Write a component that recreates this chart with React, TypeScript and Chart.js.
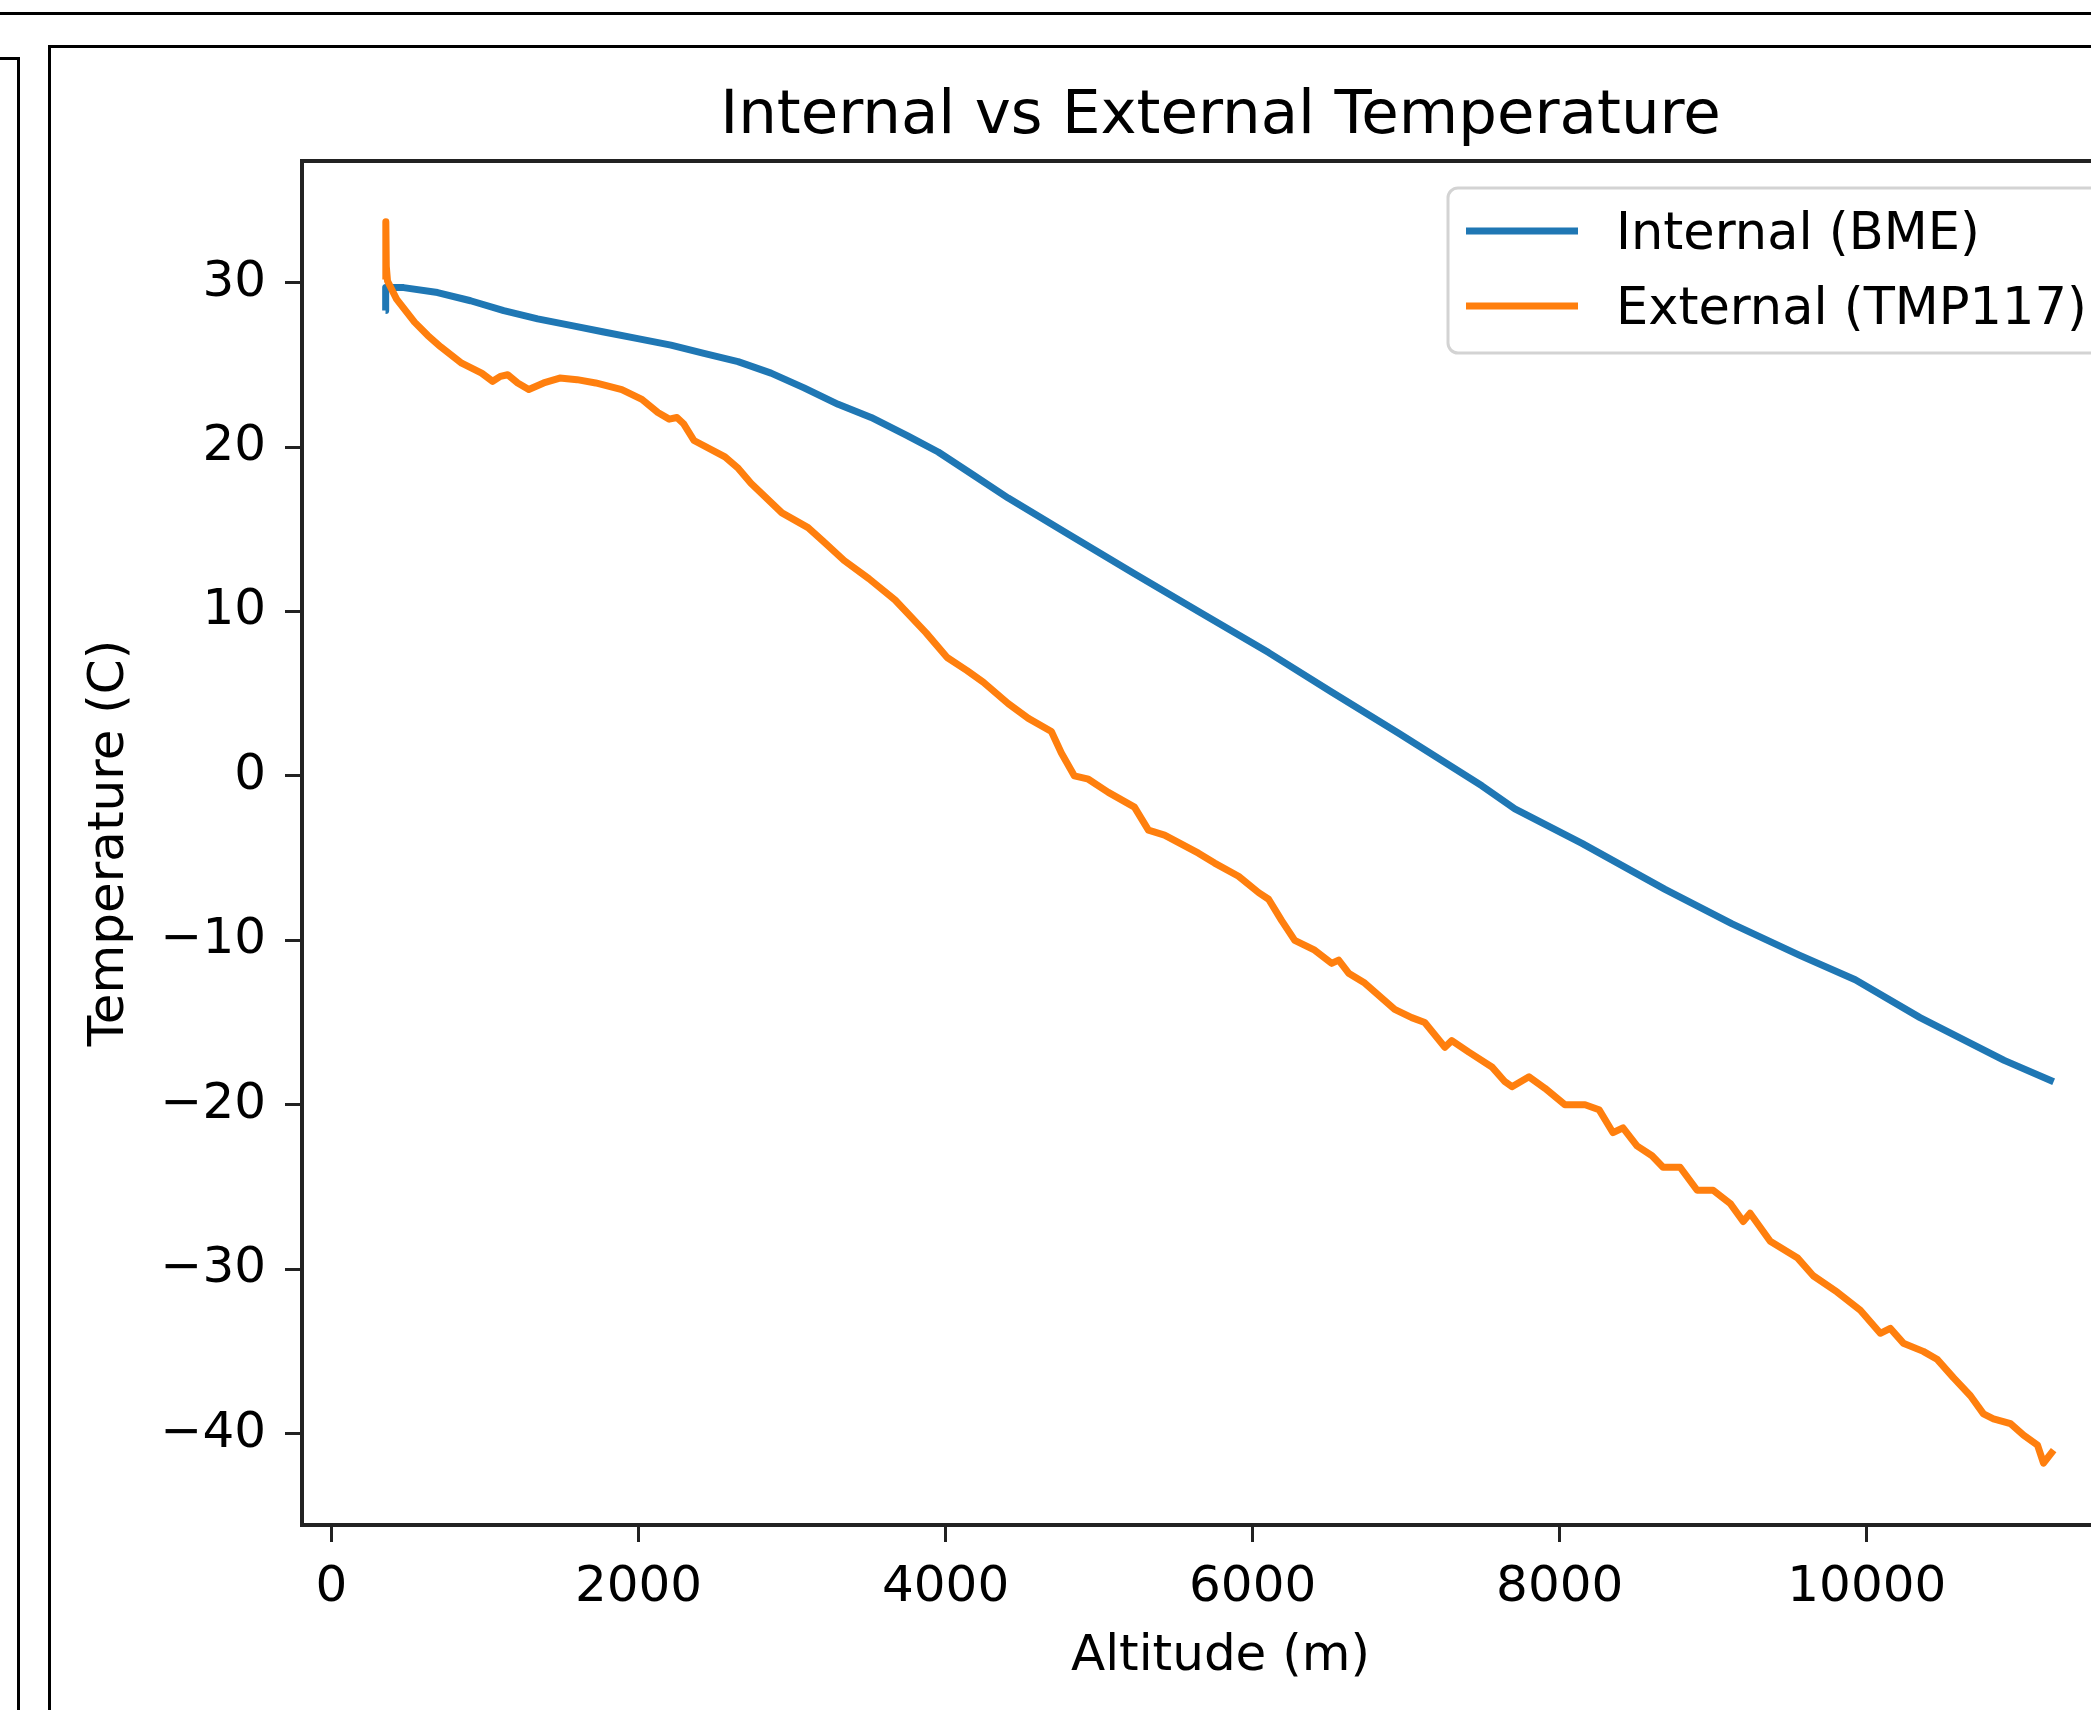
import React, { useEffect, useRef } from 'react';
import { Chart, registerables } from 'chart.js';

Chart.register(...registerables);

const FONT = "'DejaVu Sans', sans-serif";

const chartTitle = 'Internal vs External Temperature';
const xAxisTitle = 'Altitude (m)';
const yAxisTitle = 'Temperature (C)';
const seriesLabels = ['Internal (BME)', 'External (TMP117)'];
const seriesColors = ['#1f77b4', '#ff7f0e'];

// Internal (BME) sensor: altitude (m) and temperature (C)
const internalAltitude = [
  352, 353, 470, 691, 906, 1122, 1343, 1558, 1774, 1995, 2211, 2426, 2648, 2863, 3078, 3300, 3515,
  3750, 3952, 4180, 4408, 4800, 5230, 5667, 6104, 6514, 6951, 7493, 7708, 8145, 8686, 9123, 9560,
  9925, 10347, 10895, 11217,
];
const internalTemp = [
  28.3, 29.7, 29.7, 29.4, 28.9, 28.3, 27.8, 27.4, 27.0, 26.6, 26.2, 25.7, 25.2, 24.5, 23.6, 22.6, 21.8,
  20.7, 19.7, 18.3, 16.9, 14.7, 12.3, 9.9, 7.5, 5.1, 2.6, -0.6, -2.0, -4.1, -6.9, -9.0, -10.9,
  -12.4, -14.7, -17.3, -18.6,
];

// External (TMP117) sensor: altitude (m) and temperature (C)
const externalAltitude = [
  352, 354, 357, 365, 424, 541, 626, 711, 848, 978,
  1050, 1100, 1148, 1213, 1285, 1382, 1487, 1600, 1721, 1891,
  2022, 2126, 2200, 2250, 2295, 2361, 2563, 2650, 2732, 2934,
  3104, 3200, 3339, 3500, 3671, 3873, 4010, 4140, 4245, 4408,
  4539, 4689, 4754, 4839, 4930, 5060, 5230, 5321, 5426, 5647,
  5752, 5908, 6039, 6104, 6189, 6274, 6404, 6514, 6560, 6625,
  6730, 6925, 7036, 7121, 7252, 7297, 7408, 7558, 7643, 7689,
  7800, 7904, 8034, 8165, 8256, 8347, 8412, 8503, 8601, 8673,
  8784, 8895, 8999, 9110, 9195, 9240, 9371, 9547, 9651, 9808,
  9958, 10088, 10153, 10238, 10368, 10460, 10564, 10675, 10760, 10825,
  10936, 11021, 11112, 11151, 11217,
];
const externalTemp = [
  30.2, 33.7, 31.0, 30.1, 29.0, 27.6, 26.8, 26.1, 25.1, 24.5,
  24.0, 24.3, 24.4, 23.9, 23.5, 23.9, 24.2, 24.1, 23.9, 23.5,
  22.9, 22.1, 21.7, 21.8, 21.4, 20.4, 19.4, 18.7, 17.8, 16.0,
  15.1, 14.3, 13.1, 12.0, 10.7, 8.7, 7.2, 6.4, 5.7, 4.4,
  3.5, 2.7, 1.4, 0.0, -0.2, -1.0, -1.9, -3.3, -3.6, -4.7,
  -5.3, -6.1, -7.1, -7.5, -8.8, -10.0, -10.6, -11.4, -11.2, -12.0,
  -12.6, -14.2, -14.7, -15.0, -16.5, -16.1, -16.8, -17.7, -18.6, -18.9,
  -18.3, -19.0, -20.0, -20.0, -20.3, -21.7, -21.4, -22.5, -23.1, -23.8,
  -23.8, -25.2, -25.2, -26.0, -27.1, -26.6, -28.3, -29.3, -30.4, -31.4,
  -32.5, -33.9, -33.6, -34.5, -35.0, -35.5, -36.6, -37.7, -38.8, -39.1,
  -39.4, -40.1, -40.7, -41.8, -41.0,
];

const xTickValues = [0, 2000, 4000, 6000, 8000, 10000];
const yTickValues = [-40, -30, -20, -10, 0, 10, 20, 30];
const xRange = [-192, 11773];
const yRange = [-45.56, 37.4];

const toPoints = (xs: number[], ys: number[]) => xs.map((x, i) => ({ x, y: ys[i] }));
const fmtTick = (v: number | string) => {
  const n = Number(v);
  return n < 0 ? '\u2212' + String(Math.abs(n)) : String(n);
};

const framePlugin = {
  id: 'frame',
  afterDatasetsDraw(chart: any) {
    const { ctx, chartArea: ca } = chart;
    ctx.save();
    ctx.strokeStyle = '#222';
    ctx.lineWidth = 4;
    ctx.strokeRect(ca.left, ca.top, ca.right - ca.left, ca.bottom - ca.top);
    ctx.restore();
  },
};

const titlePlugin = {
  id: 'mplTitle',
  afterDraw(chart: any) {
    const { ctx, chartArea: ca } = chart;
    ctx.save();
    ctx.fillStyle = '#000';
    ctx.font = `61px ${FONT}`;
    ctx.textAlign = 'center';
    ctx.textBaseline = 'alphabetic';
    ctx.fillText(chartTitle, (ca.left + ca.right) / 2, ca.top - 28);
    ctx.restore();
  },
};

const legendPlugin = {
  id: 'mplLegend',
  afterDraw(chart: any) {
    const { ctx, chartArea: ca } = chart;
    const fx = ca.right - 691;
    const fy = ca.top + 27;
    const fw = 666;
    const fh = 165;
    ctx.save();
    ctx.fillStyle = 'rgba(255,255,255,0.8)';
    ctx.strokeStyle = '#d3d3d3';
    ctx.lineWidth = 3;
    ctx.beginPath();
    (ctx as any).roundRect(fx, fy, fw, fh, 10);
    ctx.fill();
    ctx.stroke();
    const rows = [fy + 43, fy + 118];
    chart.data.datasets.forEach((ds: any, i: number) => {
      const y = rows[i];
      ctx.strokeStyle = ds.borderColor;
      ctx.lineWidth = 7;
      ctx.beginPath();
      ctx.moveTo(fx + 18, y);
      ctx.lineTo(fx + 130, y);
      ctx.stroke();
      ctx.fillStyle = '#000';
      ctx.font = `51px ${FONT}`;
      ctx.textAlign = 'left';
      ctx.textBaseline = 'alphabetic';
      ctx.fillText(ds.label, fx + 168, y + 18);
    });
    ctx.restore();
  },
};

export default function App() {
  const ref = useRef<HTMLCanvasElement>(null);

  useEffect(() => {
    const canvas = ref.current;
    if (!canvas) return;
    const tickFont = { family: FONT, size: 50, lineHeight: 1.2 };
    const gridOpts = {
      display: true,
      drawOnChartArea: false,
      drawTicks: true,
      tickLength: 17,
      tickWidth: 3,
      tickColor: '#222',
    };
    const chart = new Chart(canvas, {
      type: 'line',
      data: {
        datasets: [
          {
            label: seriesLabels[0],
            data: toPoints(internalAltitude, internalTemp),
            borderColor: seriesColors[0],
            backgroundColor: seriesColors[0],
            borderWidth: 7,
            pointRadius: 0,
            tension: 0,
            borderJoinStyle: 'round',
            order: 1,
          },
          {
            label: seriesLabels[1],
            data: toPoints(externalAltitude, externalTemp),
            borderColor: seriesColors[1],
            backgroundColor: seriesColors[1],
            borderWidth: 7,
            pointRadius: 0,
            tension: 0,
            borderJoinStyle: 'round',
            order: 0,
          },
        ],
      },
      options: {
        animation: false,
        responsive: false,
        devicePixelRatio: 1,
        layout: { padding: { top: 111, right: 21, bottom: 0, left: 0 } },
        plugins: {
          legend: { display: false },
          tooltip: { enabled: false },
          title: { display: false },
        },
        scales: {
          x: {
            type: 'linear',
            position: 'bottom',
            min: xRange[0],
            max: xRange[1],
            afterBuildTicks: (s: any) => {
              s.ticks = xTickValues.map((v) => ({ value: v }));
            },
            afterFit: (s: any) => {
              s.height = 195;
              s.paddingLeft = 0;
              s.paddingRight = 0;
            },
            ticks: {
              autoSkip: false,
              maxRotation: 0,
              minRotation: 0,
              color: '#000',
              padding: 16,
              font: tickFont,
              callback: (v: any) => fmtTick(v),
            },
            grid: gridOpts,
            border: { display: false },
            title: {
              display: true,
              text: xAxisTitle,
              color: '#000',
              font: tickFont,
              padding: { top: 0, bottom: 33 },
            },
          },
          y: {
            type: 'linear',
            position: 'left',
            min: yRange[0],
            max: yRange[1],
            afterBuildTicks: (s: any) => {
              s.ticks = yTickValues.map((v) => ({ value: v }));
            },
            afterFit: (s: any) => {
              s.width = 252;
              s.paddingTop = 0;
              s.paddingBottom = 0;
            },
            ticks: {
              autoSkip: false,
              color: '#000',
              padding: 19,
              font: tickFont,
              callback: (v: any) => fmtTick(v),
            },
            grid: gridOpts,
            border: { display: false },
            title: {
              display: true,
              text: yAxisTitle,
              color: '#000',
              font: tickFont,
              padding: { top: 30, bottom: 0 },
            },
          },
        },
      } as any,
      plugins: [framePlugin, titlePlugin, legendPlugin],
    });
    return () => chart.destroy();
  }, []);

  return (
    <div
      style={{
        position: 'absolute',
        left: 0,
        top: 0,
        width: 2091,
        height: 1710,
        overflow: 'hidden',
        background: '#fff',
      }}
    >
      <div style={{ position: 'absolute', left: 0, top: 12, width: 2091, height: 3, background: '#000' }} />
      <div
        style={{
          position: 'absolute',
          left: -10,
          top: 57,
          width: 30,
          height: 2000,
          borderTop: '3px solid #000',
          borderRight: '3px solid #000',
          boxSizing: 'border-box',
        }}
      />
      <div
        style={{
          position: 'absolute',
          left: 48,
          top: 45,
          width: 3000,
          height: 3000,
          border: '3px solid #000',
          boxSizing: 'border-box',
        }}
      />
      <canvas
        ref={ref}
        width={2110}
        height={1670}
        style={{ position: 'absolute', left: 50, top: 50, width: 2110, height: 1670 }}
      />
    </div>
  );
}
